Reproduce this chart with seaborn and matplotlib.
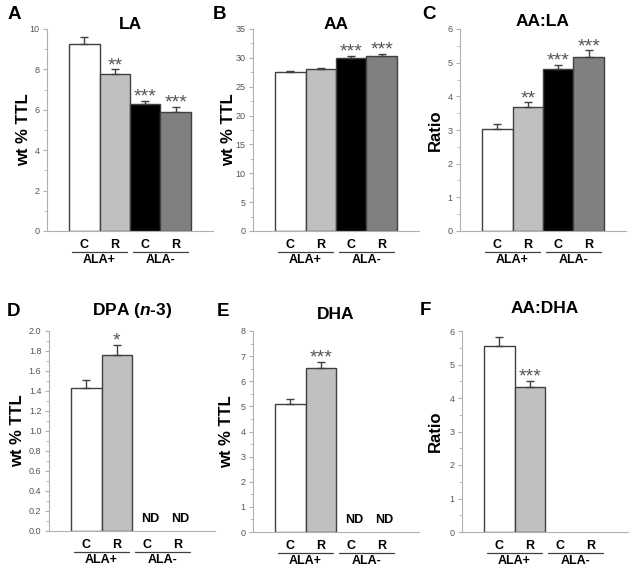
import numpy as np
import pandas as pd
import matplotlib
matplotlib.use("Agg")
import matplotlib.pyplot as plt
from matplotlib.ticker import MultipleLocator, FormatStrFormatter
import seaborn as sns

# ---------------- data ----------------
groups = ["C+", "R+", "C-", "R-"]
sub_labels = ["C", "R", "C", "R"]
diet_labels = ["ALA+", "ALA-"]

la_vals = [9.27, 7.77, 6.27, 5.91]
la_err = [0.32, 0.23, 0.17, 0.24]
la_sig = ["", "**", "***", "***"]

aa_vals = [27.5, 28.1, 29.9, 30.3]
aa_err = [0.25, 0.15, 0.45, 0.4]
aa_sig = ["", "", "***", "***"]

aala_vals = [3.04, 3.67, 4.82, 5.17]
aala_err = [0.14, 0.15, 0.12, 0.20]
aala_sig = ["", "**", "***", "***"]

dpa_vals = [1.434, 1.764]
dpa_err = [0.08, 0.10]
dpa_sig = ["", "*"]

dha_vals = [5.08, 6.52]
dha_err = [0.21, 0.25]
dha_sig = ["", "***"]

aadha_vals = [5.55, 4.33]
aadha_err = [0.27, 0.19]
aadha_sig = ["", "***"]

bar_colors = {"C+": "#ffffff", "R+": "#c0c0c0", "C-": "#000000", "R-": "#808080"}

# ---------------- style ----------------
sns.set_theme(style="white")
plt.rcParams["font.family"] = ["Liberation Sans", "DejaVu Sans"]
plt.rcParams["text.color"] = "black"
plt.rcParams["axes.labelcolor"] = "black"
plt.rcParams["mathtext.fontset"] = "custom"
plt.rcParams["mathtext.it"] = "Liberation Sans:italic:bold"
plt.rcParams["mathtext.rm"] = "Liberation Sans:bold"

fig = plt.figure(figsize=(6.42, 5.73), dpi=100)
W, H = 642.0, 573.0

def axes_px(left, top, width, height):
    return fig.add_axes([left / W, 1 - (top + height) / H, width / W, height / H])

panels = [
    dict(letter="A", title="LA", vals=la_vals, err=la_err, sig=la_sig, ylim=10, major=2, minor=1,
         fmt="%d", ylabel="wt % TTL", box=(47, 29, 166, 202), letter_xy=(8, 6), title_y=1.02,
         ylab_x=-0.14, nd=False),
    dict(letter="B", title="AA", vals=aa_vals, err=aa_err, sig=aa_sig, ylim=35, major=5, minor=2.5,
         fmt="%d", ylabel="wt % TTL", box=(253, 29, 166, 202), letter_xy=(213, 6), title_y=1.02,
         ylab_x=-0.15, nd=False),
    dict(letter="C", title="AA:LA", vals=aala_vals, err=aala_err, sig=aala_sig, ylim=6, major=1, minor=0.5,
         fmt="%d", ylabel="Ratio", box=(460, 29, 166, 202), letter_xy=(422, 6), title_y=1.035,
         ylab_x=-0.15, nd=False),
    dict(letter="D", title=r"DPA ($n$-3)", vals=dpa_vals, err=dpa_err, sig=dpa_sig, ylim=2.0, major=0.2,
         minor=0.1, fmt="%.1f", ylabel="wt % TTL", box=(49, 331, 166, 200), letter_xy=(7, 303),
         title_y=1.105, ylab_x=-0.19, nd=True),
    dict(letter="E", title="DHA", vals=dha_vals, err=dha_err, sig=dha_sig, ylim=8, major=1, minor=0.5,
         fmt="%d", ylabel="wt % TTL", box=(253, 331, 166, 201), letter_xy=(217, 303), title_y=1.08,
         ylab_x=-0.16, nd=True),
    dict(letter="F", title="AA:DHA", vals=aadha_vals, err=aadha_err, sig=aadha_sig, ylim=6, major=1,
         minor=0.5, fmt="%d", ylabel="Ratio", box=(462, 331, 166, 201), letter_xy=(420, 302),
         title_y=1.11, ylab_x=-0.16, nd=False),
]

axis_gray = "#b0b0b0"
edge = "#404040"

for p in panels:
    ax = axes_px(*p["box"])
    n = len(p["vals"])
    df = pd.DataFrame({"group": groups[:n], "value": p["vals"]})
    sns.barplot(data=df, x="group", y="value", hue="group", order=groups,
                palette={g: bar_colors[g] for g in groups[:n]}, width=1.0,
                edgecolor=edge, linewidth=1.0, errorbar=None, legend=False, ax=ax)
    xpos = np.arange(n)
    vals = np.array(p["vals"])
    errs = np.array(p["err"])
    ax.errorbar(xpos, vals, yerr=[np.zeros(n), errs], fmt="none", ecolor=edge,
                elinewidth=1.0, capsize=3, capthick=1.0)
    for i in range(n):
        if p["sig"][i]:
            ax.annotate(p["sig"][i], (xpos[i], vals[i] + errs[i]), xytext=(0, -3.5),
                        textcoords="offset points", ha="center", va="bottom",
                        fontsize=14, color="#555555")
    if p["nd"]:
        for i in range(n, 4):
            ax.annotate("ND", (i + 0.1, 0), xytext=(0, 4), textcoords="offset points",
                        ha="center", va="bottom", fontsize=9, fontweight="bold", color="black")

    ax.set_xlim(-1.23, 4.23)
    ax.set_ylim(0, p["ylim"])
    ax.yaxis.set_major_locator(MultipleLocator(p["major"]))
    ax.yaxis.set_minor_locator(MultipleLocator(p["minor"]))
    ax.yaxis.set_major_formatter(FormatStrFormatter(p["fmt"]))
    ax.tick_params(axis="y", which="major", direction="out", length=3, width=0.8,
                   color=axis_gray, labelsize=6.5, labelcolor="#555555", pad=2.5, left=True)
    ax.tick_params(axis="y", which="minor", direction="out", length=2, width=0.6,
                   color=axis_gray, left=True)
    ax.tick_params(axis="x", bottom=False, labelbottom=False)
    ax.set_xlabel("")
    ax.set_ylabel("")
    for s in ["top", "right"]:
        ax.spines[s].set_visible(False)
    for s in ["left", "bottom"]:
        ax.spines[s].set_color(axis_gray)
        ax.spines[s].set_linewidth(0.8)

    # category labels
    tr = ax.get_xaxis_transform()
    for i, lab in enumerate(sub_labels):
        ax.text(i, -0.068, lab, transform=tr, ha="center", va="center",
                fontsize=9, fontweight="bold", clip_on=False)
    for j, lab in enumerate(diet_labels):
        c = 0.5 + 2 * j
        ax.plot([c - 0.9, c + 0.9], [-0.104, -0.104], transform=tr, color="#404040",
                lw=0.9, clip_on=False)
        ax.text(c, -0.145, lab, transform=tr, ha="center", va="center",
                fontsize=9, fontweight="bold", clip_on=False)

    ax.text(0.5, p["title_y"], p["title"], transform=ax.transAxes, ha="center", va="center",
            fontsize=12.5, fontweight="bold")
    ax.text(p["ylab_x"], 0.5, p["ylabel"], transform=ax.transAxes, rotation=90,
            ha="center", va="center", fontsize=12, fontweight="bold")
    lx, ly = p["letter_xy"]
    fig.text(lx / W, 1 - ly / H, p["letter"], ha="left", va="top",
             fontsize=13.5, fontweight="bold")

fig.savefig("out.png", dpi=100)
